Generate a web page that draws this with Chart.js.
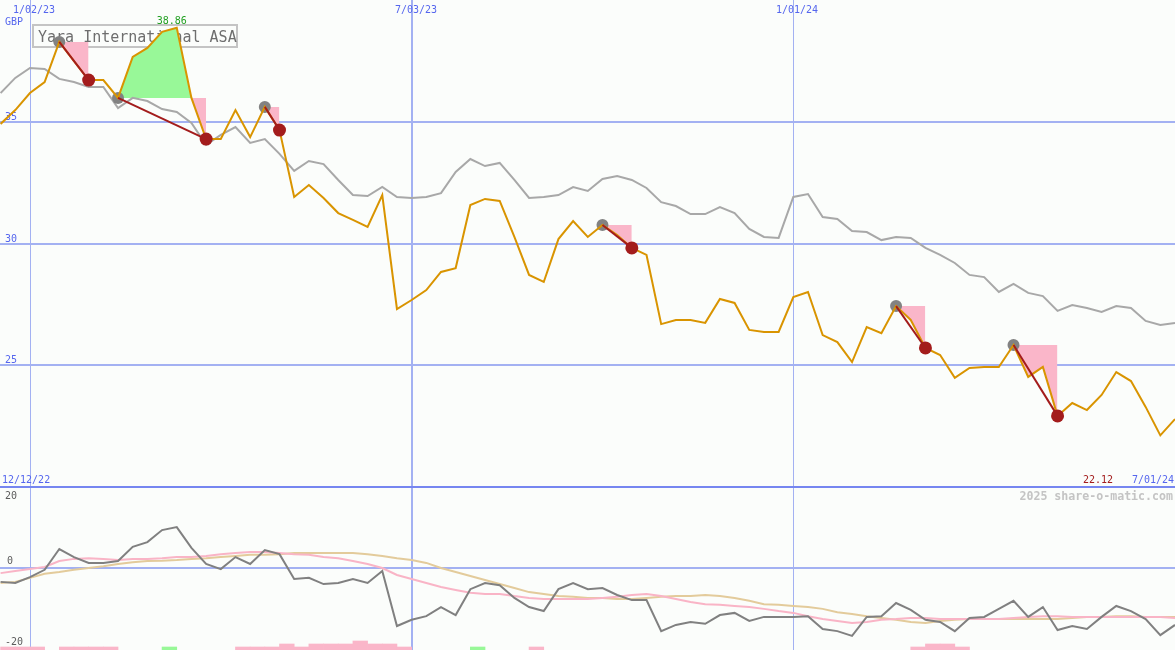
<!DOCTYPE html>
<html>
<head>
<meta charset="utf-8">
<script src="https://cdn.jsdelivr.net/npm/chart.js@4.4.1/dist/chart.umd.min.js"></script>
<style>
  html, body { margin: 0; padding: 0; background: #fbfdfb; }
  #wrap { position: relative; width: 1175px; height: 650px; overflow: hidden; }
  canvas { position: absolute; left: 0; }
  #priceChart { top: 0; }
  #oscChart { top: 487px; }
  #sep { position: absolute; left: 0; top: 486px; width: 1175px; height: 2px; background: #7686f0; }
</style>
</head>
<body>
<div id="wrap">
  <canvas id="priceChart" width="1175" height="487"></canvas>
  <canvas id="oscChart" width="1175" height="163"></canvas>
  <div id="sep"></div>
</div>
<script>
// weekly closes, one value per week (week 0 = 19 Dec 2022)
const title = 'Yara International ASA';
const currency = 'GBP';
const firstDate = '12/12/22';
const lastDate = '7/01/24';
const dateTicks = ['1/02/23', '7/03/23', '1/01/24'];
const dateTickWeeks = [2, 28, 54];
const priceTicks = [35, 30, 25];
const oscTicks = [20, 0, -20];

const price = [
  34.91, 35.48, 36.18, 36.63, 38.28, 37.49, 36.71, 36.71, 35.98, 37.66,
  38.03, 38.69, 38.86, 35.98, 34.29, 34.29, 35.48, 34.37, 35.61, 34.66,
  31.91, 32.40, 31.87, 31.25, 30.97, 30.68, 31.99, 27.31, 27.68, 28.09,
  28.83, 28.99, 31.58, 31.83, 31.75, 30.27, 28.71, 28.42, 30.18, 30.92,
  30.27, 30.76, 30.35, 29.82, 29.53, 26.69, 26.86, 26.86, 26.74, 27.72,
  27.56, 26.45, 26.37, 26.37, 27.80, 28.01, 26.24, 25.95, 25.13, 26.57,
  26.32, 27.43, 26.86, 25.71, 25.42, 24.48, 24.89, 24.93, 24.93, 25.83,
  24.52, 24.93, 22.92, 23.45, 23.16, 23.78, 24.72, 24.35, 23.29, 22.12,
  22.79
];

const average = [
  36.18, 36.80, 37.21, 37.17, 36.76, 36.63, 36.43, 36.43, 35.56, 35.98,
  35.85, 35.52, 35.40, 34.95, 34.05, 34.46, 34.78, 34.13, 34.29, 33.68,
  32.98, 33.39, 33.26, 32.61, 31.99, 31.95, 32.32, 31.91, 31.87, 31.91,
  32.07, 32.94, 33.47, 33.18, 33.31, 32.61, 31.87, 31.91, 31.99, 32.32,
  32.16, 32.65, 32.77, 32.61, 32.28, 31.70, 31.54, 31.21, 31.21, 31.50,
  31.25, 30.60, 30.27, 30.23, 31.91, 32.03, 31.09, 31.01, 30.51, 30.47,
  30.14, 30.27, 30.23, 29.82, 29.53, 29.20, 28.71, 28.62, 28.01, 28.34,
  27.97, 27.84, 27.23, 27.47, 27.35, 27.19, 27.43, 27.35, 26.82, 26.65,
  26.74
];

// signals: grey dot where it starts, red dot where it ends
const tradeOpen = [4, 8, 18, 41, 61, 69];
const tradeClose = [6, 14, 19, 43, 63, 72];

const momentum = [
  -3.8, -4.1, -2.5, -0.5, 5.2, 3.0, 1.4, 1.4, 1.9, 5.8,
  7.1, 10.4, 11.2, 5.5, 1.1, -0.3, 3.0, 1.1, 4.9, 3.8,
  -3.0, -2.7, -4.4, -4.1, -3.0, -4.1, -0.8, -15.9, -14.2, -13.2,
  -10.7, -12.9, -5.8, -4.1, -4.7, -8.2, -10.7, -11.8, -5.8, -4.1,
  -5.8, -5.5, -7.4, -8.8, -8.8, -17.3, -15.6, -14.8, -15.3, -12.9,
  -12.3, -14.5, -13.4, -13.4, -13.4, -13.2, -16.7, -17.3, -18.6, -13.4,
  -13.2, -9.6, -11.5, -14.2, -14.8, -17.3, -13.7, -13.4, -11.2, -9.0,
  -13.4, -10.7, -17.0, -15.9, -16.7, -13.4, -10.4, -11.8, -14.0, -18.4,
  -15.6
];

const signalFast = [
  -1.4, -0.8, -0.3, 0.3, 1.9, 2.5, 2.7, 2.5, 2.2, 2.5,
  2.5, 2.7, 3.0, 3.0, 3.3, 3.8, 4.1, 4.4, 4.4, 4.1,
  3.8, 3.6, 3.0, 2.7, 1.9, 1.1, 0.0, -1.9, -3.0, -4.1,
  -5.2, -6.0, -6.8, -7.1, -7.1, -7.7, -8.2, -8.5, -8.5, -8.5,
  -8.5, -8.2, -7.9, -7.4, -7.1, -7.7, -8.5, -9.3, -9.9, -10.1,
  -10.4, -10.7, -11.2, -11.8, -12.3, -13.2, -14.0, -14.5, -15.1, -14.8,
  -14.2, -14.0, -13.7, -13.7, -14.0, -14.0, -14.0, -14.0, -14.0, -13.7,
  -13.4, -13.2, -13.2, -13.4, -13.4, -13.4, -13.4, -13.4, -13.4, -13.4,
  -13.7
];

const signalSlow = [
  -4.1, -3.8, -2.7, -1.6, -1.1, -0.5, 0.0, 0.5, 1.1, 1.6,
  1.9, 2.0, 2.2, 2.5, 2.7, 3.0, 3.3, 3.6, 3.6, 3.8,
  4.1, 4.1, 4.1, 4.1, 4.1, 3.8, 3.3, 2.7, 2.2, 1.4,
  0.0, -1.1, -2.2, -3.3, -4.4, -5.5, -6.6, -7.1, -7.7, -7.9,
  -8.2, -8.2, -8.5, -8.5, -8.2, -7.9, -7.7, -7.7, -7.4, -7.7,
  -8.2, -9.0, -9.9, -10.1, -10.4, -10.7, -11.2, -12.1, -12.6, -13.2,
  -13.7, -14.2, -14.8, -15.1, -14.5, -14.2, -14.0, -14.0, -14.0, -14.0,
  -14.0, -14.0, -14.0, -13.7, -13.4, -13.4, -13.2, -13.2, -13.4, -13.4,
  -13.4
];

// small strip at the bottom: week, height level, up (green) or down (pink)
const volWeeks = [0, 1, 2, 4, 5, 6, 7, 11, 16, 17, 18, 19, 20, 21, 22, 23, 24, 25, 26, 27, 32, 36, 62, 63, 64, 65];
const volLevel = [1, 1, 1, 1, 1, 1, 1, 1, 1, 1, 1, 2, 1, 2, 2, 2, 3, 2, 2, 1, 1, 1, 1, 2, 2, 1];
const volUp    = [0, 0, 0, 0, 0, 0, 0, 1, 0, 0, 0, 0, 0, 0, 0, 0, 0, 0, 0, 0, 1, 0, 0, 0, 0, 0];

const BG = '#fbfdfb';
const GRID = '#a3b1f2';
const TICK_BLUE = '#5566ee';
const ORANGE = '#d99400';
const GREY_MA = '#a8a8a8';
const PINK = '#fab6c9';
const GREEN = '#98f898';
const DARK_RED = '#a31c1c';
const FONT = '"DejaVu Sans Mono", monospace';

const points = arr => arr.map((v, i) => ({ x: i, y: v }));

function gridLines(chart, hValues) {
    const { ctx, chartArea, scales: { x, y } } = chart;
    ctx.save();
    ctx.strokeStyle = GRID;
    hValues.forEach(v => {
        const py = Math.round(y.getPixelForValue(v));
        ctx.lineWidth = 2;
        ctx.beginPath();
        ctx.moveTo(chartArea.left, py);
        ctx.lineTo(chartArea.right, py);
        ctx.stroke();
    });
    dateTickWeeks.forEach((w, k) => {
        const lw = k === 1 ? 2 : 1;
        const px = Math.round(x.getPixelForValue(w)) + (lw === 1 ? 0.5 : 0);
        ctx.lineWidth = lw;
        ctx.beginPath();
        ctx.moveTo(px, chartArea.top);
        ctx.lineTo(px, chartArea.bottom);
        ctx.stroke();
    });
    ctx.restore();
}

const background = {
    id: 'background',
    beforeDraw(chart) {
        const ctx = chart.ctx;
        ctx.save();
        ctx.fillStyle = BG;
        ctx.fillRect(0, 0, chart.width, chart.height);
        ctx.restore();
    },
};

const priceDecor = {
    id: 'priceDecor',
    beforeDatasetsDraw(chart) {
        const { ctx, scales: { x, y } } = chart;
        gridLines(chart, priceTicks);
        ctx.save();
        ctx.font = '10px ' + FONT;
        ctx.fillStyle = TICK_BLUE;
        ctx.textAlign = 'center';
        dateTicks.forEach((t, k) => {
            ctx.fillText(t, Math.round(x.getPixelForValue(dateTickWeeks[k])) + 4, 13);
        });
        ctx.textAlign = 'left';
        ctx.fillText(currency, 5, 25);
        priceTicks.forEach(v => {
            ctx.fillText(String(v), 5, Math.round(y.getPixelForValue(v)) - 2);
        });
        // name box
        ctx.strokeStyle = '#c4c4c4';
        ctx.lineWidth = 2;
        ctx.strokeRect(33, 25, 204, 22);
        ctx.font = '15px ' + FONT;
        ctx.fillStyle = '#6e6e6e';
        ctx.fillText(title, 38, 42);
        ctx.restore();
    },
    afterDatasetsDraw(chart) {
        const { ctx, scales: { x, y } } = chart;
        const hi = Math.max(...price);
        const lo = Math.min(...price);
        const hiIdx = price.indexOf(hi);
        ctx.save();
        ctx.font = '10px ' + FONT;
        ctx.textAlign = 'center';
        ctx.fillStyle = '#22a022';
        ctx.fillText(hi.toFixed(2), x.getPixelForValue(hiIdx) - 5, y.getPixelForValue(hi) - 4);
        ctx.textAlign = 'left';
        ctx.fillStyle = DARK_RED;
        ctx.fillText(lo.toFixed(2), 1083, 483);
        ctx.fillStyle = TICK_BLUE;
        ctx.fillText(lastDate, 1132, 483);
        ctx.fillText(firstDate, 2, 483);
        ctx.restore();
    },
};

const oscDecor = {
    id: 'oscDecor',
    beforeDatasetsDraw(chart) {
        const { ctx, scales: { y } } = chart;
        gridLines(chart, [0]);
        ctx.save();
        ctx.font = '10px ' + FONT;
        ctx.fillStyle = '#5c5c5c';
        ctx.textBaseline = 'middle';
        oscTicks.forEach(v => {
            const py = y.getPixelForValue(v);
            ctx.fillText(String(v), v === 0 ? 7 : 5, v === 0 ? py - 7 : py + 1);
        });
        ctx.textBaseline = 'alphabetic';
        ctx.textAlign = 'right';
        ctx.font = 'bold 11.6px ' + FONT;
        ctx.fillStyle = '#c4c4c4';
        ctx.fillText('2025 share-o-matic.com', 1173, 13);
        ctx.restore();
    },
};

const baseOptions = (yScales) => ({
    responsive: false,
    animation: false,
    events: [],
    layout: { padding: 0, autoPadding: false },
    plugins: {
        legend: { display: false },
        tooltip: { enabled: false },
    },
    elements: {
        line: { tension: 0 },
        point: { radius: 0 },
    },
    scales: Object.assign({
        x: { type: 'linear', min: -0.04, max: 80, display: false, offset: false },
    }, yScales),
});

const tradeFills = tradeOpen.map((s, k) => ({
    type: 'line',
    data: price.slice(s, tradeClose[k] + 1).map((v, j) => ({ x: s + j, y: v })),
    borderWidth: 0,
    borderColor: 'rgba(0,0,0,0)',
    pointRadius: 0,
    fill: { target: { value: price[s] }, above: GREEN, below: PINK },
    order: 50,
}));

const tradeLines = tradeOpen.map((s, k) => ({
    type: 'line',
    data: [{ x: s, y: price[s] }, { x: tradeClose[k], y: price[tradeClose[k]] }],
    borderColor: DARK_RED,
    borderWidth: 2,
    pointRadius: 0,
    fill: false,
    order: 10,
}));

new Chart(document.getElementById('priceChart'), {
    type: 'line',
    data: {
        datasets: [
            ...tradeFills,
            {
                data: points(average),
                borderColor: GREY_MA,
                borderWidth: 2,
                fill: false,
                order: 40,
            },
            {
                data: tradeOpen.map(i => ({ x: i, y: price[i] })),
                showLine: false,
                pointRadius: 6,
                pointBackgroundColor: '#828282',
                pointBorderWidth: 0,
                order: 30,
            },
            {
                data: points(price),
                borderColor: ORANGE,
                borderWidth: 2,
                fill: false,
                order: 20,
            },
            ...tradeLines,
            {
                data: tradeClose.map(i => ({ x: i, y: price[i] })),
                showLine: false,
                pointRadius: 6.5,
                pointBackgroundColor: DARK_RED,
                pointBorderWidth: 0,
                order: 5,
            },
        ],
    },
    options: baseOptions({ y: { min: 20, max: 40, display: false } }),
    plugins: [background, priceDecor],
});

new Chart(document.getElementById('oscChart'), {
    type: 'line',
    data: {
        datasets: [
            {
                type: 'bar',
                data: volWeeks.map((w, k) => ({ x: w + 0.5, y: volLevel[k] })),
                backgroundColor: volUp.map(u => u ? GREEN : PINK),
                borderWidth: 0,
                barPercentage: 1,
                categoryPercentage: 1,
                yAxisID: 'yv',
                order: 90,
            },
            {
                data: points(signalSlow),
                borderColor: '#e3cb9b',
                borderWidth: 2,
                fill: false,
                order: 30,
            },
            {
                data: points(signalFast),
                borderColor: '#f9b4c6',
                borderWidth: 2,
                fill: false,
                order: 20,
            },
            {
                data: points(momentum),
                borderColor: '#808080',
                borderWidth: 2,
                fill: false,
                order: 10,
            },
        ],
    },
    options: baseOptions({
        y: { min: -22.47, max: 22.2, display: false },
        yv: { min: 0, max: 163 / 3, display: false },
    }),
    plugins: [background, oscDecor],
});
</script>
</body>
</html>
